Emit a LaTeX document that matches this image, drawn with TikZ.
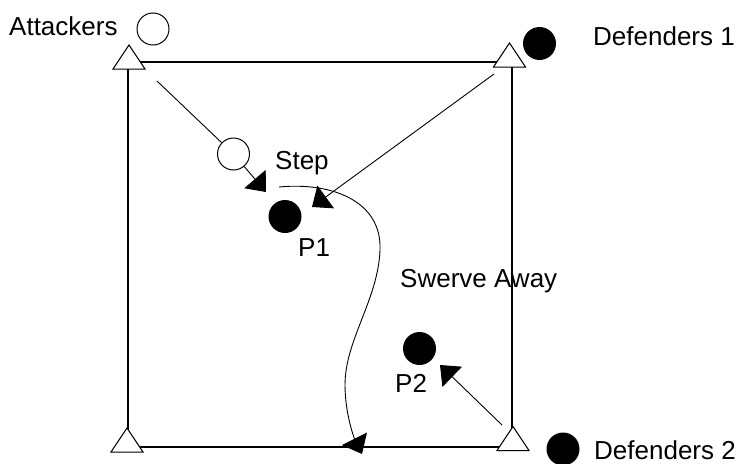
\documentclass[tikz,border=0pt]{standalone}
\usepackage{fontspec}
\setmainfont{Liberation Sans}
\usetikzlibrary{arrows.meta}
\newcommand\drawcone[1]{\draw[cone] (#1) ++(0,-12) -- ++(16,24) -- ++(-32,0) -- cycle;}
\begin{document}
\begin{tikzpicture}[x=1pt,y=-1pt,
  lab/.style={anchor=base west, inner sep=0pt, font=\fontsize{26}{30}\selectfont},
  openpt/.style={circle, draw, fill=white, line width=1pt, minimum size=32pt, inner sep=0pt},
  dot/.style={circle, fill=black, minimum size=33pt, inner sep=0pt},
  field/.style={line width=1.1pt},
  track/.style={line width=0.9pt},
  mov/.style={line width=0.9pt, -{Triangle[length=17pt,width=28pt]}},
  cone/.style={draw, fill=white, line width=1pt, line join=miter}
]
\useasboundingbox (0,0) rectangle (743,463);
% field
\coordinate (c1) at (128,62);
\coordinate (c2) at (512,62);
\coordinate (c3) at (512,447);
\coordinate (c4) at (128,447);
\draw[field] (c1) -- (c2) -- (c3) -- (c4) -- cycle;
% players
\node[openpt] (att1) at (153,29) {};
\node[dot] (def1) at (539.5,43.5) {};
\node[openpt] (att2) at (233.5,154) {};
\node[dot] (p1) at (285,216.5) {};
\node[dot] (p2) at (419.5,348.5) {};
\node[dot] (def2) at (563,449) {};
% movements
\coordinate (s1) at (157,81);
\coordinate (t1) at (266,192);
\draw[track] (s1) -- (att2);
\draw[mov] (att2) -- (t1);
\coordinate (s2) at (494,74);
\coordinate (t2) at (312,207);
\draw[mov] (s2) -- (t2);
\coordinate (s3) at (502,425);
\coordinate (t3) at (440,365);
\draw[mov] (s3) -- (t3);
\coordinate (s4) at (279,187);
\coordinate (t4) at (362,454);
\draw[mov] (s4) .. controls (330,182) and (382,200) .. (380,250)
  .. controls (378,300) and (345,340) .. (345,385)
  .. controls (345,415) and (355,440) .. (t4);
% cones
\coordinate (k1) at (129,57);
\coordinate (k2) at (509.5,55);
\coordinate (k3) at (127,440);
\coordinate (k4) at (513,438.5);
\drawcone{k1}
\drawcone{k2}
\drawcone{k3}
\drawcone{k4}
% labels
\node[lab] (lA) at (9,35) {Attackers};
\node[lab] (lD1) at (593,45) {Defenders 1};
\node[lab] (lS) at (275,169) {Step};
\node[lab] (lP1) at (298,256) {P1};
\node[lab] (lSw) at (400,287) {Swerve Away};
\node[lab] (lP2) at (395,392) {P2};
\node[lab] (lD2) at (594,459) {Defenders 2};
\end{tikzpicture}
\end{document}
